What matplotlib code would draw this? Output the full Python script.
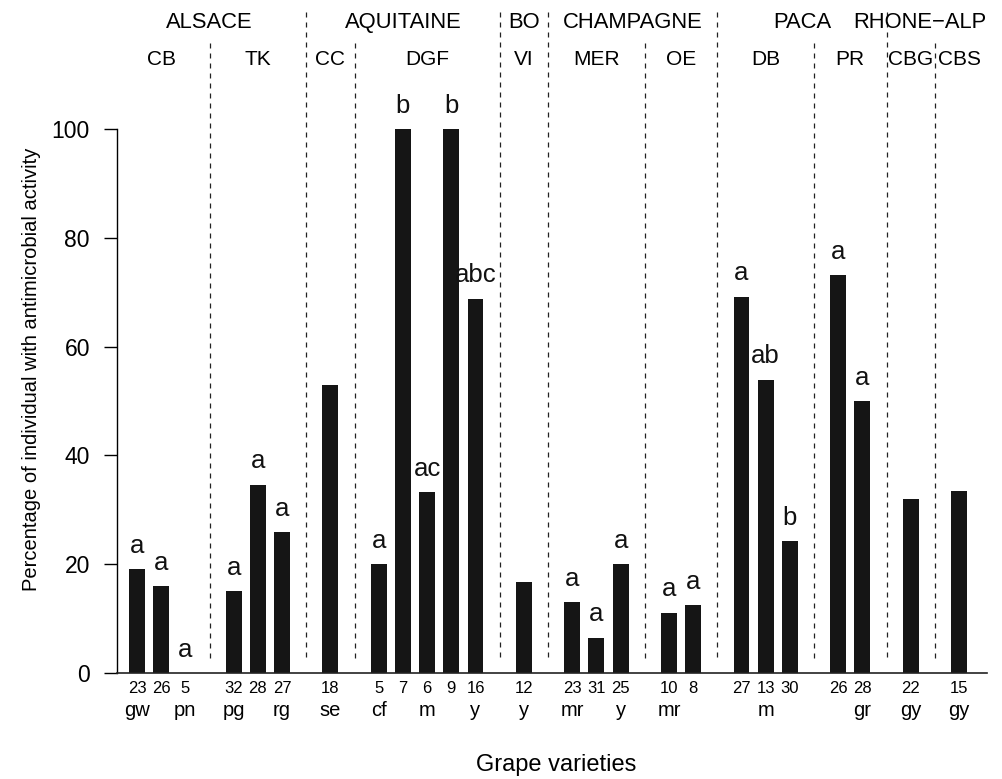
import matplotlib
matplotlib.use("Agg")
import matplotlib.pyplot as plt
from matplotlib.transforms import blended_transform_factory, Bbox, TransformedBbox

plt.rcParams['font.family'] = ['Liberation Sans', 'DejaVu Sans']

# sub-regions (left to right) with their region and number of bars
subregions = ['CB', 'TK', 'CC', 'DGF', 'VI', 'MER', 'OE', 'DB', 'PR', 'CBG', 'CBS']
sub_region = ['ALSACE', 'ALSACE', 'AQUITAINE', 'AQUITAINE', 'BO', 'CHAMPAGNE',
              'CHAMPAGNE', 'PACA', 'PACA', 'RHONE\u2212ALPES', 'RHONE\u2212ALPES']
sub_sizes = [3, 3, 1, 5, 1, 3, 2, 3, 2, 1, 1]

# one entry per bar
sample_n = [23, 26, 5, 32, 28, 27, 18, 5, 7, 6, 9, 16, 12, 23, 31, 25,
            10, 8, 27, 13, 30, 26, 28, 22, 15]
values = [19.1, 16.0, 0, 15.0, 34.6, 25.9, 52.9, 20.0, 100, 33.3, 100, 68.8,
          16.7, 13.0, 6.5, 20.0, 11.1, 12.5, 69.2, 53.9, 24.2, 73.1, 50.0,
          32.0, 33.4]
letters = ['a', 'a', 'a', 'a', 'a', 'a', '', 'a', 'b', 'ac', 'b', 'abc',
           '', 'a', 'a', 'a', 'a', 'a', 'a', 'ab', 'b', 'a', 'a', '', '']
varieties = ['gw', '', 'pn', 'pg', '', 'rg', 'se', 'cf', '', 'm', '', 'y',
             'y', 'mr', '', 'y', 'mr', '', '', 'm', '', '', 'gr', 'gy', 'gy']

W, H = 1002, 779


def fy(py):
    # pixel row -> figure fraction
    return 1 - py / H


# bar slots: one empty slot between sub-regions
xpos = []
sub_spans = []
boundaries = []
s = 0
for i, n in enumerate(sub_sizes):
    if i > 0:
        full = sub_region[i] != sub_region[i - 1]
        boundaries.append((s, full))
        s += 1
    sub_spans.append((s, s + n - 1))
    xpos.extend(range(s, s + n))
    s += n

fig = plt.figure(figsize=(W / 100, H / 100), dpi=100)
ax = fig.add_axes([117 / W, fy(673), (987 - 117) / W, (673 - 129) / H])
step = 24.18
ax.set_xlim(-20 / step, (987 - 137) / step)
ax.set_ylim(0, 100)

ax.bar(xpos, values, width=0.66, color='#151515', edgecolor='none')

for x, v, lab in zip(xpos, values, letters):
    if lab:
        ax.text(x, v + 3, lab, ha='center', va='baseline', fontsize=18.5,
                color='#111111')

ax.spines['top'].set_visible(False)
ax.spines['right'].set_visible(False)
ax.spines['left'].set_linewidth(1)
ax.spines['bottom'].set_linewidth(1.2)
ax.spines['bottom'].set_color('#222222')
ax.set_xticks([])
ax.set_yticks([0, 20, 40, 60, 80, 100])
ax.tick_params(axis='y', direction='out', length=9.5, width=1, pad=10,
               labelsize=16.5)

tr = blended_transform_factory(ax.transData, fig.transFigure)
# the device region ends at the right end of the baseline
clip = TransformedBbox(Bbox([[0, 0], [987 / W, 1]]), fig.transFigure)

# dashed separators
for b, full in boundaries:
    top = 12 if full else 43
    ax.plot([b, b], [fy(top), fy(662)], transform=tr, color='#222222',
            lw=0.9, ls=(0, (4, 4)), clip_on=False)

# region labels
regions = []
for r in sub_region:
    if r not in regions:
        regions.append(r)
for r in regions:
    spans = [sp for sp, rr in zip(sub_spans, sub_region) if rr == r]
    cx = (spans[0][0] + spans[-1][1]) / 2
    t = ax.text(cx, fy(28), r, transform=tr, ha='center', va='baseline',
                fontsize=15.8)
    t.set_clip_on(True)
    t.set_clip_box(clip)

# sub-region labels
for name, (a, b) in zip(subregions, sub_spans):
    ax.text((a + b) / 2, fy(65), name, transform=tr, ha='center',
            va='baseline', fontsize=15, clip_on=False)

# sample sizes and varieties
for x, n, var in zip(xpos, sample_n, varieties):
    ax.text(x, fy(693), str(n), transform=tr, ha='center', va='baseline',
            fontsize=12, clip_on=False)
    if var:
        ax.text(x, fy(716), var, transform=tr, ha='center', va='baseline',
                fontsize=14.5, clip_on=False)

fig.text(556 / W, fy(771), 'Grape varieties', ha='center', va='baseline',
         fontsize=17)
fig.text(32 / W, fy(369), 'Percentage of individual with antimicrobial activity',
         rotation=90, ha='center', va='center', fontsize=14.5)

fig.savefig('out.png', dpi=100)
